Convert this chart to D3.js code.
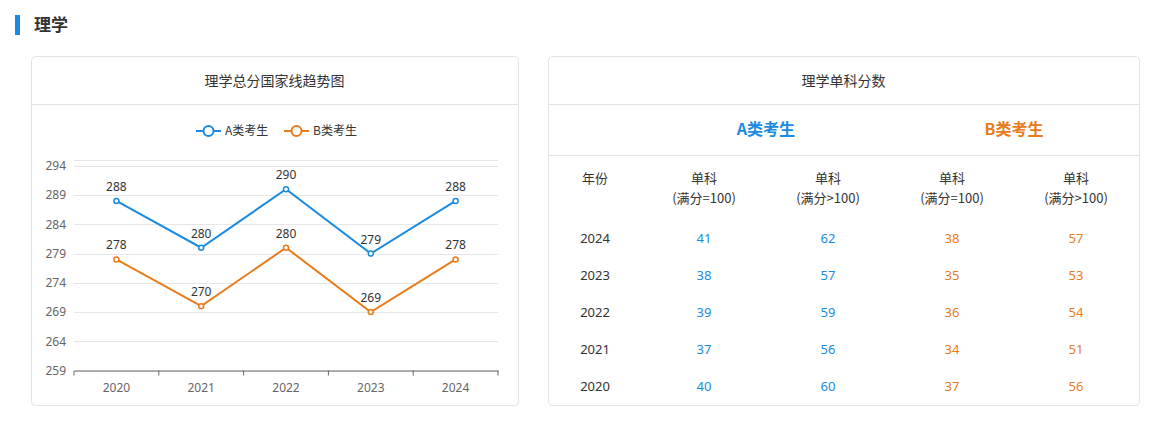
<!DOCTYPE html><html><head><meta charset="utf-8">
<script src="https://cdn.jsdelivr.net/npm/d3@7"></script>
<style>body{margin:0;background:#fff;font-family:"Noto Sans CJK SC","Noto Sans",sans-serif;}</style></head><body>
<svg id="c" width="1163" height="422"></svg>
<script>
const years=["2020","2021","2022","2023","2024"];
const seriesA=[288,280,290,279,288];
const seriesB=[278,270,280,269,278];
const yTicks=[259,264,269,274,279,284,289,294];
const tableYears=["2024","2023","2022","2021","2020"];
const aSingle100=[41,38,39,37,40];
const aSingleOver=[62,57,59,56,60];
const bSingle100=[38,35,36,34,37];
const bSingleOver=[57,53,54,51,56];
const blue="#1a8be0",orange="#e87b1c";
const svg=d3.select("#c");
svg.append("rect").attr("x",15).attr("y",15).attr("width",5).attr("height",20).attr("fill","#1a8be0");
svg.append("text").attr("x",34).attr("y",31).attr("font-size",17).attr("font-weight","bold").attr("fill","#333").text("理学");
function card(x,w,title){
  svg.append("rect").attr("x",x+.5).attr("y",56.5).attr("width",w).attr("height",349).attr("rx",4).attr("fill","#fff").attr("stroke","#e3e3e3");
  svg.append("line").attr("x1",x).attr("x2",x+w).attr("y1",104.5).attr("y2",104.5).attr("stroke","#e3e3e3");
  svg.append("text").attr("x",x+w/2).attr("y",86).attr("text-anchor","middle").attr("font-size",14).attr("fill","#333").text(title);
}
card(31,487,"理学总分国家线趋势图");
card(548,591,"理学单科分数");
const x=d3.scaleBand().domain(years).range([74,498]);
const y=d3.scaleLinear().domain([259,295]).range([370.5,160]);
const g=svg.append("g");
g.selectAll(".gl").data(yTicks.concat([295])).join("line").attr("x1",74).attr("x2",498)
 .attr("y1",d=>Math.round(y(d))+.5).attr("y2",d=>Math.round(y(d))+.5).attr("stroke","#e6e6e6");
const ya=g.append("g").attr("transform","translate(74,0)").call(d3.axisLeft(y).tickValues(yTicks).tickSize(0).tickPadding(8));
ya.select(".domain").remove();
ya.selectAll("text").attr("font-size",12).attr("fill","#666").attr("font-family","Noto Sans");
const xa=g.append("g").attr("transform","translate(0,370.5)").call(d3.axisBottom(x).tickSizeOuter(0).tickSizeInner(5).tickPadding(8));
xa.select(".domain").attr("stroke","#666");
xa.selectAll(".tick line").remove();
xa.selectAll(".bt").data(d3.range(6)).join("line").attr("x1",i=>74+i*x.bandwidth()).attr("x2",i=>74+i*x.bandwidth()).attr("y1",0).attr("y2",5).attr("stroke","#666");
xa.selectAll("text").attr("font-size",12).attr("fill","#666").attr("font-family","Noto Sans");
const cx=d=>x(d)+x.bandwidth()/2;
[[seriesA,blue],[seriesB,orange]].forEach(([s,c])=>{
  g.append("path").datum(s).attr("fill","none").attr("stroke",c).attr("stroke-width",2)
   .attr("d",d3.line().x((d,i)=>cx(years[i])).y(d=>y(d)));
  g.selectAll(null).data(s).join("circle").attr("cx",(d,i)=>cx(years[i])).attr("cy",d=>y(d)).attr("r",2.5).attr("fill","#fff").attr("stroke",c).attr("stroke-width",1.5);
  g.selectAll(null).data(s).join("text").attr("x",(d,i)=>cx(years[i])).attr("y",d=>y(d)-10).attr("text-anchor","middle").attr("font-size",12).attr("fill","#333").attr("font-family","Noto Sans").text(d=>d);
});
[["A类考生",blue,196],["B类考生",orange,284]].forEach(([t,c,lx])=>{
  svg.append("line").attr("x1",lx).attr("x2",lx+25).attr("y1",131).attr("y2",131).attr("stroke",c).attr("stroke-width",2);
  svg.append("circle").attr("cx",lx+12.5).attr("cy",131).attr("r",5).attr("fill","#fff").attr("stroke",c).attr("stroke-width",2);
  svg.append("text").attr("x",lx+29).attr("y",135).attr("font-size",12).attr("fill","#333").text(t);
});
svg.append("text").attr("x",766).attr("y",135).attr("text-anchor","middle").attr("font-size",16).attr("font-weight","bold").attr("fill",blue).text("A类考生");
svg.append("text").attr("x",1014).attr("y",135).attr("text-anchor","middle").attr("font-size",16).attr("font-weight","bold").attr("fill",orange).text("B类考生");
svg.append("line").attr("x1",548).attr("x2",1139).attr("y1",155.5).attr("y2",155.5).attr("stroke","#e3e3e3");
const cols=[595,704,828,952,1076];
const heads=[["年份",""],["单科","(满分=100)"],["单科","(满分>100)"],["单科","(满分=100)"],["单科","(满分>100)"]];
heads.forEach((h,i)=>{
  svg.append("text").attr("x",cols[i]).attr("y",183).attr("text-anchor","middle").attr("font-size",13).attr("fill","#333").text(h[0]);
  if(h[1])svg.append("text").attr("x",cols[i]).attr("y",203).attr("text-anchor","middle").attr("font-size",13).attr("fill","#333").text(h[1]);
});
const cData=[[tableYears,"#333"],[aSingle100,blue],[aSingleOver,blue],[bSingle100,orange],[bSingleOver,orange]];
cData.forEach(([arr,c],i)=>{
  svg.selectAll(null).data(arr).join("text").attr("x",cols[i]).attr("y",(d,r)=>243+r*37).attr("text-anchor","middle").attr("font-size",13).attr("fill",c).attr("font-family","Noto Sans").text(d=>d);
});
</script></body></html>
